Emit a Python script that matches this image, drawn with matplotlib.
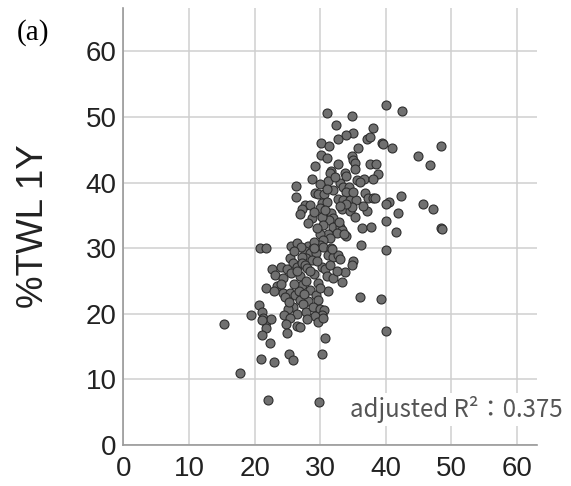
import numpy as np
import matplotlib.pyplot as plt

# values (x, %TWL 1Y)
x_upper = [40.0, 42.4, 31.0, 34.8, 32.4, 38.0, 35.0, 34.0, 32.7, 37.2, 37.6, 39.4, 39.5,
           30.1, 31.4, 41.0, 35.8, 48.4, 44.9, 46.7, 30.1, 31.1, 34.8, 35.0, 35.3, 32.7,
           29.2, 37.6, 38.5, 35.3, 38.8, 31.7, 31.5, 33.8, 34.0, 28.8, 31.2, 29.9, 35.6,
           36.6, 36.0, 38.0, 26.3, 33.0, 33.4, 34.4, 34.0, 29.2, 29.7, 30.6, 26.3, 36.8,
           37.3, 38.0, 38.3, 42.3, 32.7, 33.4, 34.5, 35.5, 40.5, 40.1, 45.6, 47.2, 27.7,
           28.5, 27.2, 26.9, 30.2, 30.0, 33.3, 34.5, 34.8, 34.0, 37.1, 41.9, 31.7, 31.9,
           31.4, 30.2, 35.3, 28.7, 28.2, 40.0, 30.5, 32.0, 33.0, 33.3, 32.5, 31.2, 30.0,
           34.0, 36.3, 37.7, 41.6, 48.4, 48.6, 36.2, 40.1,
           32.0, 31.0, 33.0, 29.0, 31.5, 32.8, 30.8, 33.6, 29.5, 31.0, 35.0, 32.2, 36.5, 30.5]
y_upper = [51.9, 50.9, 50.6, 50.2, 48.7, 48.3, 47.6, 47.3, 46.7, 46.7, 46.9, 46.1, 45.9,
           46.0, 45.5, 45.2, 45.2, 45.6, 44.1, 42.7, 44.2, 43.7, 44.0, 43.5, 43.0, 42.9,
           42.5, 42.8, 42.8, 42.0, 41.3, 41.7, 41.4, 41.5, 41.0, 40.6, 40.3, 39.8, 40.4,
           40.5, 40.1, 40.5, 39.5, 39.9, 39.4, 39.3, 38.6, 38.4, 38.3, 38.3, 37.8, 38.4,
           37.6, 37.6, 37.6, 38.0, 37.5, 37.4, 37.4, 37.4, 37.1, 36.7, 36.7, 35.9, 36.6,
           36.6, 36.0, 35.2, 36.9, 36.1, 35.9, 35.6, 36.3, 36.8, 35.7, 35.4, 35.3, 34.6,
           34.3, 34.8, 34.8, 34.6, 33.8, 34.1, 33.6, 33.3, 33.3, 32.8, 32.3, 32.1, 32.1,
           31.8, 33.1, 33.3, 32.5, 33.0, 32.9, 30.5, 29.7,
           38.8, 37.0, 36.5, 35.5, 31.5, 34.0, 35.8, 32.2, 33.0, 39.0, 38.5, 40.8, 36.5, 31.3]

x_lower = [20.8, 21.7, 25.5, 26.4, 28.2, 28.9, 30.0, 30.5, 31.7, 27.7, 28.4, 29.4, 27.9,
           27.2, 28.7, 31.2, 32.0, 32.7, 33.0, 35.0, 25.4, 25.9, 26.4, 27.2, 27.7, 30.2,
           30.7, 31.5, 34.9, 33.8, 22.7, 24.1, 24.9, 23.1, 24.4, 25.6, 26.9, 31.0, 32.0,
           33.3, 23.4, 21.8, 27.2, 29.6, 31.2, 28.4, 24.3, 25.4, 26.1, 24.6, 26.7, 26.9,
           28.2, 29.4, 29.7, 27.4, 36.0, 39.2, 25.9, 25.1, 26.4, 27.9, 28.9, 30.0, 30.6,
           30.2, 20.7, 21.2, 19.4, 21.3, 21.8, 22.5, 21.1, 24.5, 25.4, 24.8, 26.4, 26.9,
           29.2, 29.7, 30.5, 15.3, 21.8, 40.0, 25.0, 21.2, 30.8, 22.4, 25.2, 25.8, 30.2,
           21.0, 22.9, 17.8, 22.0, 29.8,
           29.0, 27.0, 26.0, 28.0, 29.0, 27.8, 26.0, 30.0, 28.5, 32.5, 29.5, 31.8, 24.0,
           25.2, 28.0, 23.0, 26.5, 27.5, 29.0]
y_lower = [30.1, 30.0, 30.4, 30.8, 30.4, 30.0, 30.5, 30.2, 30.0, 29.5, 29.2, 29.2, 28.5,
           28.7, 28.2, 28.9, 28.7, 29.0, 28.3, 28.1, 28.5, 27.7, 27.2, 27.7, 27.5, 27.2,
           26.9, 27.4, 27.4, 26.4, 26.9, 27.1, 26.8, 25.9, 25.4, 26.2, 25.7, 25.7, 25.4,
           24.9, 24.2, 23.9, 24.4, 24.7, 23.5, 23.6, 23.1, 23.1, 22.9, 22.6, 23.4, 22.1,
           21.9, 22.9, 22.1, 21.5, 22.6, 22.3, 21.1, 20.8, 20.0, 20.3, 21.1, 20.8, 20.5,
           19.8, 21.3, 20.2, 19.8, 19.3, 18.8, 19.2, 19.1, 19.8, 19.3, 18.5, 18.1, 18.0,
           19.6, 18.8, 19.3, 18.4, 17.9, 17.4, 17.0, 16.7, 16.3, 15.6, 13.8, 12.9, 13.9,
           13.1, 12.7, 11.0, 6.9, 6.5,
           31.0, 30.2, 29.5, 27.0, 26.0, 25.0, 24.5, 24.0, 26.5, 26.5, 28.0, 29.8, 24.5,
           21.8, 19.2, 23.5, 26.5, 23.0, 30.0]

x_vals = np.array(x_upper + x_lower)
y_vals = np.array(y_upper + y_lower)

ticks = [0, 10, 20, 30, 40, 50, 60]
r2_text = "adjusted R²：0.375"

plt.rcParams['font.family'] = ['Liberation Sans', 'DejaVu Sans']

fig = plt.figure(figsize=(5.71, 4.86), dpi=100)
ax = fig.add_axes([0.216, 0.0844, 0.724, 0.899])

ax.scatter(x_vals, y_vals, s=42, facecolor='#707070', edgecolor='#2e2e2e',
           linewidth=0.8, zorder=3)

ax.set_xlim(0, 63)
ax.set_ylim(0, 66.6)
ax.set_xticks(ticks)
ax.set_yticks(ticks)
ax.grid(True, color='#cfcfcf', linewidth=1.1, zorder=0)
ax.tick_params(length=0, labelsize=20, colors='#222222')
ax.tick_params(axis='y', pad=5)
ax.tick_params(axis='x', pad=8)
for side in ['top', 'right']:
    ax.spines[side].set_visible(False)
for side in ['left', 'bottom']:
    ax.spines[side].set_color('#999999')
    ax.spines[side].set_linewidth(1.2)

ax.set_ylabel('%TWL 1Y', fontsize=26.5, color='#222222', labelpad=25)

fig.text(0.986, 0.157, r2_text, ha='right', va='center', family=['Noto Sans CJK JP'],
         fontsize=17.3, color='#555555', zorder=4,
         bbox=dict(facecolor='white', edgecolor='none', pad=2))

fig.text(0.03, 0.934, '(a)', fontsize=21, family='Liberation Serif', color='black',
         va='center')

plt.savefig('out.png', dpi=100)
